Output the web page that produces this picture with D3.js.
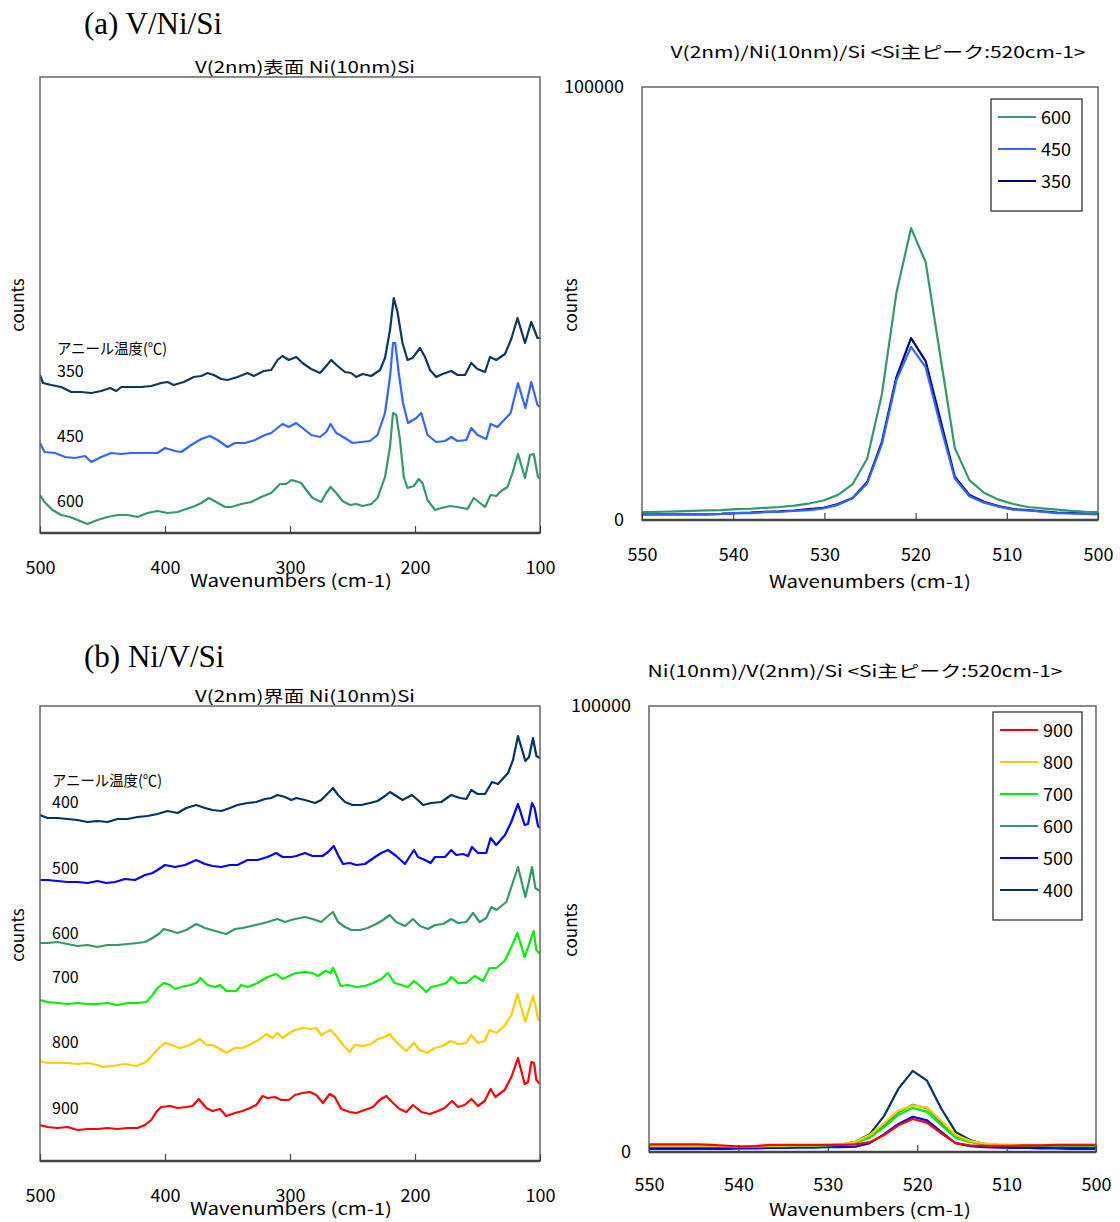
<!DOCTYPE html>
<html>
<head>
<meta charset="utf-8">
<script src="https://cdn.jsdelivr.net/npm/d3@7"></script>
<style>
  body { margin: 0; background: #fff; }
  text { font-family: "Noto Sans CJK JP", "Noto Sans", sans-serif; fill: #000; }
</style>
</head>
<body>
<svg id="chart" width="1120" height="1222"></svg>
<script>
// ---- (a) V/Ni/Si  : wide-range spectra, [wavenumber, counts (arb.)] ----
const a350 = [[500,158],[497.6,150],[491,148],[483,146],[475,141],[467,141],[459,140],[451,142],[444,145],[439,142],[435,146],[427,146],[419,146],[411,147],[403,150],[398,151],[393,148],[385,151],[377,156],[371,157],[366,160],[361,158],[355,154],[350,153],[342,156],[334,160],[329,157],[321,162],[315,163],[310,173],[306,177],[301,173],[295,176],[290,170],[283,164],[276,160],[271,167],[267,173],[262,167],[256,161],[251,160],[247,156],[242,159],[235,157],[228,163],[224,175],[220,203],[217,235],[214,221],[210,190],[206,173],[202,175],[196,185],[192,176],[188,163],[183,156],[178,159],[171,162],[166,158],[160,158],[155,170],[150,164],[144,161],[140,176],[135,173],[128,179],[123,194],[118,215],[112,190],[107,211],[102,195],[100,195]]
const a450 = [[500,90],[496.4,81],[488,80],[480,76],[472,75],[464,77],[459,71],[451,76],[443,80],[435,79],[427,80],[419,80],[411,80],[406,80],[400,85],[392,82],[387,81],[379,88],[371,94],[364,97],[358,93],[350,86],[344,90],[336,90],[328,93],[320,98],[315,100],[310,105],[306,109],[301,106],[295,110],[290,105],[283,98],[276,96],[271,101],[267.5,109],[263,100],[256,95],[250,90],[243,91],[236,92],[230,98],[224,120],[220,156],[217.6,190],[215.8,190],[213,160],[209.6,130],[205.6,110],[201.6,113],[199,115],[195,120],[190,98],[183,91],[176,92],[171,96],[166,92],[159,93],[155,105],[150,98],[143,94],[139.5,109],[134,106],[128,114],[123.5,120],[117.6,150],[111.7,125],[107,151],[102,128],[100,126]]
const a600 = [[500,38],[496.4,31],[490,23],[483,18],[476,16],[470,13],[462,9],[454,13],[446,16],[438,18],[430,18],[422,16],[414,20],[406,22],[398,20],[390,21],[383,24],[376,27],[371,30],[365,35],[359,31],[352,26],[347,26],[339,29],[331,31],[323,36],[315,40],[308,49],[303,49],[299,53],[296,52],[291,50],[287,43],[282,35],[275,31],[271,40],[267.5,46],[263,40],[258,32],[252,28],[247,29],[242,27],[235,29],[230,35],[224,56],[220,86],[217.6,120],[215,118],[212,93],[209,56],[206,45],[201,47],[197,54],[194,50],[190,33],[184,23],[179,25],[172,27],[166,26],[158,24],[153,35],[148,30],[144,26],[139.5,38],[135,37],[131,42],[126,46],[122,60],[117.6,79],[112,55],[108,78],[105,79],[101.6,56],[100,54]]

// ---- (b) Ni/V/Si : wide-range spectra ----
const b400 = [[500,346],[494,343],[486,343],[478,342],[470,341],[462,339],[454,340],[446,339],[438,342],[430,342],[422,344],[414,345],[406,347],[398,350],[390,348],[383,353],[375,356],[368,353],[362,351],[355,350],[348,353],[342,356],[334,358],[327,359],[320,362],[315,363],[310,366],[304,364],[299,361],[295,363],[288,361],[280,358],[275,361],[271,366],[265.6,373],[261.6,366],[256,359],[250,356],[243,356],[236,358],[230,360],[224,365],[220,369],[215,365],[210,361],[202.4,366],[196,359],[193.6,356],[187,358],[179,359],[171,366],[164,363],[159,362],[155,371],[150,367],[144,367],[138.4,379],[133.6,377],[125.6,388],[121.6,401],[117.6,425],[111.7,400],[108.8,404],[105.6,423],[102.9,405],[100,403]]
const b500 = [[500,281],[494,281],[486,280],[478,279],[470,279],[462,278],[454,280],[447,278],[440,279],[432,282],[424,281],[416,286],[410,288],[406,291],[400,296],[392,294],[384,296],[375,301],[368,297],[362,295],[355,294],[348,296],[342,296],[334,301],[326,301],[318,304],[311,308],[306,304],[299,304],[295,305],[288,308],[282,305],[274,305],[269.6,309],[265,315],[261.6,306],[257.6,297],[252,298],[247,296],[240,297],[232,304],[227,308],[221.6,311],[215,305],[208,297],[203.5,306],[200.8,311],[197.6,304],[192,301],[187.5,298],[184,304],[176,304],[171,311],[167,306],[161.6,307],[157.6,305],[154.4,314],[149.6,308],[143,308],[139.5,323],[135,316],[128,326],[123,339],[117.6,357],[112.3,336],[109.6,337],[106.4,358],[104.3,353],[101.6,335],[100,333]]
const b600 = [[500,218],[494,218],[486,219],[478,217],[470,215],[462,216],[454,214],[446,216],[438,216],[430,217],[422,218],[416,219],[410,223],[404,228],[401,232],[395,230],[390,228],[383,231],[375,237],[368,233],[360,230],[351,227],[344,232],[338,233],[331,235],[324,237],[318,239],[310,242],[304,239],[299,241],[296,242],[288,244],[282,242],[275,239],[269.6,245],[265.6,249],[261.6,239],[256,234],[251,231],[244,231],[238,233],[231,237],[225.6,241],[220.3,246],[215,239],[208,235],[201.6,242],[196,235],[189.6,232],[184,236],[177.6,237],[171,242],[165.6,238],[159,239],[153.6,248],[148.3,239],[143,243],[138.9,254],[134.9,251],[126.9,259],[122.4,276],[117.6,294],[111.7,264],[109.1,278],[106.4,294],[103.7,273],[100,270]]
const b700 = [[500,161],[494,159],[486,158],[478,157],[470,158],[462,157],[454,157],[446,158],[438,156],[430,158],[422,158],[415,159],[410,166],[406,173],[401,178],[396,176],[392,172],[387,174],[380,176],[375,178],[371.5,183],[366,176],[360,174],[356,176],[351,170],[343,170],[339,176],[334,174],[326,178],[318,184],[311,187],[306,182],[299,186],[295,188],[288,189],[282,188],[277.6,185],[271.7,190],[267.5,188],[265.6,193],[262.9,186],[259.5,175],[253.6,176],[247,174],[240,175],[233.6,178],[227,182],[221.6,188],[216.3,178],[211,176],[205.6,174],[200.8,180],[195,174],[190.9,169],[187,174],[180,176],[175,178],[170.9,184],[165.6,178],[159,178],[152.3,185],[145.6,180],[140.3,193],[135,193],[128.3,200],[122.9,214],[118.1,228],[112.3,204],[108.3,218],[105.1,230],[102.9,211],[100,207]]
const b800 = [[500,100],[494,98],[486,98],[478,98],[470,97],[462,98],[454,96],[450,94],[442,95],[432,97],[423,95],[415,99],[410,106],[404,114],[400,118],[395,116],[388,113],[382,115],[376,119],[372,122],[367,116],[362,116],[356,112],[351,108],[344,113],[338,113],[331,117],[324,122],[319,127],[314,123],[310,128],[306,123],[299,129],[296,131],[290,133],[283,132],[279,133],[275,126],[271,129],[267.5,131],[263,125],[257.6,116],[252.3,109],[248.3,116],[241.6,115],[235,117],[229.6,122],[224.3,124],[220.3,127],[215,119],[207,110],[200.8,118],[196.3,111],[190.1,108],[184.3,113],[177.6,115],[171.5,120],[165.6,117],[159,118],[155,126],[149.6,118],[144.3,120],[140.3,131],[135,128],[128.3,135],[122.9,146],[118.1,167],[111.7,139],[108.3,154],[105.6,165],[103.7,156],[101.6,142],[100,140]]
const b900 = [[500,36],[494,34],[486,33],[478,34],[470,31],[462,32],[454,32],[446,33],[438,32],[430,33],[422,33],[416,36],[411,41],[407,49],[403,54],[396,55],[390,53],[383,54],[378,55],[373,62],[367,53],[362,50],[356,52],[351,45],[344,48],[338,50],[332,53],[327,56],[322,65],[318,63],[312,64],[307,61],[301,61],[296,66],[290,68],[284,69],[279,66],[273.6,58],[268.3,67],[264.3,64],[258.9,52],[252.3,49],[246.9,48],[240.3,51],[233.6,54],[228.3,61],[222.9,65],[217.6,58],[212.3,52],[206.9,49],[201.6,56],[194.9,49],[188.3,47],[181.6,50],[176.3,53],[170.4,60],[165.6,54],[160.3,56],[154.9,62],[149.6,55],[144.3,60],[139.5,72],[135.7,64],[128.3,71],[122.9,84],[117.6,103],[112.3,77],[109.6,79],[106.9,99],[104.8,98],[102.9,81],[100,77]]

// ---- Si main peak (520 cm-1) ----
const siWave = [550.9,549.3,547.7,546.1,544.5,542.9,541.3,539.7,538.1,536.5,534.9,533.3,531.7,530.1,528.5,526.9,525.3,523.7,522.1,520.5,518.9,517.3,515.7,514.1,512.5,510.9,509.3,507.7,506.1,504.5,502.9,501.3,499.7]
const siA600 = [1800,1800,1900,2000,2100,2200,2300,2500,2600,2800,3000,3300,3800,4500,5800,8300,14200,29000,52500,67400,59600,38000,16600,9200,6300,4700,3700,3000,2700,2400,2100,1900,1800]
const siA450 = [1300,1300,1300,1300,1300,1300,1400,1600,1600,1800,1900,2100,2300,2700,3500,5000,8500,17500,32300,40000,35300,22000,9600,5500,4000,3100,2400,2200,1900,1600,1500,1400,1300]
const siA350 = [1300,1300,1300,1300,1300,1300,1400,1600,1700,1900,2000,2200,2500,2800,3700,5100,8800,18000,33000,42000,36700,23300,10000,5800,4200,3200,2500,2300,2000,1700,1600,1500,1400]
const siB900 = [1700,1700,1700,1700,1700,1600,1400,1200,1300,1600,1600,1600,1600,1600,1600,1700,2200,3800,6000,7400,6600,4200,2000,1500,1400,1400,1400,1500,1500,1600,1600,1600,1600]
const siB800 = [1400,1400,1400,1400,1400,1400,1300,1300,1300,1400,1400,1500,1500,1600,1700,2300,3800,6500,9300,10400,10000,7000,3800,2500,1900,1700,1600,1600,1600,1600,1600,1600,1600]
const siB700 = [1300,1300,1300,1300,1300,1300,1300,1200,1200,1300,1300,1400,1400,1500,1600,2100,3200,5600,8300,9900,9000,6000,3200,2200,1800,1600,1500,1500,1500,1500,1500,1400,1400]
const siB600 = [1300,1300,1300,1300,1300,1300,1300,1200,1200,1300,1300,1400,1400,1500,1700,2200,3400,6000,8900,10600,9800,6500,3500,2300,1800,1600,1500,1400,1400,1400,1400,1400,1400]
const siB500 = [700,700,700,700,700,700,700,800,800,900,900,1000,1000,1100,1100,1200,2000,4000,6300,7900,7100,4500,2000,1300,1100,1000,900,900,800,800,700,700,700]
const siB400 = [1000,1000,1000,1000,1000,1000,1000,1100,1100,1200,1200,1300,1300,1400,1600,2300,4000,8100,14200,18200,16000,9700,4500,2700,1800,1500,1300,1200,1100,1000,1000,1000,1000]

const wideTicks = [500, 400, 300, 200, 100]
const siTicks = [550, 540, 530, 520, 510, 500]

const svg = d3.select("#chart")
let clipId = 0

function frame(g, x, y) {
  const [x0, x1] = x.range(), [y0, y1] = y.range()
  g.append("rect").attr("x", x0).attr("y", y1).attr("width", x1 - x0).attr("height", y0 - y1)
    .attr("fill", "none").attr("stroke", "#666").attr("stroke-width", 1.5)
  g.append("line").attr("x1", x0).attr("x2", x1).attr("y1", y0).attr("y2", y0)
    .attr("stroke", "#444").attr("stroke-width", 2.5)
}

function xAxis(g, x, y, ticks, pad) {
  const ax = g.append("g").attr("transform", `translate(0,${y.range()[0]})`)
    .call(d3.axisBottom(x).tickValues(ticks).tickSizeInner(-7).tickSizeOuter(0).tickPadding(pad))
  ax.select(".domain").remove()
  ax.selectAll(".tick line").attr("stroke", "#444").attr("stroke-width", 1.2)
  ax.selectAll("text").attr("font-size", 18).style("font-family", "'Noto Sans CJK JP'")
}

function plotLines(g, x, y, series) {
  const id = "clip" + (clipId++)
  const [x0, x1] = x.range(), [y0, y1] = y.range()
  g.append("clipPath").attr("id", id).append("rect")
    .attr("x", x0).attr("y", y1).attr("width", x1 - x0).attr("height", y0 - y1)
  const line = d3.line().x(d => x(d[0])).y(d => y(d[1]))
  g.append("g").attr("clip-path", `url(#${id})`).selectAll("path").data(series).join("path")
    .attr("d", s => line(s.data)).attr("fill", "none")
    .attr("stroke", s => s.color).attr("stroke-width", 2.2).attr("stroke-linejoin", "round")
}

function label(g, txt, x, y, size, opts = {}) {
  const t = g.append("text").attr("x", x).attr("y", y).attr("font-size", size).text(txt)
  if (opts.anchor) t.attr("text-anchor", opts.anchor)
  if (opts.len) t.attr("textLength", opts.len).attr("lengthAdjust", "spacingAndGlyphs")
  if (opts.rotate) t.attr("transform", `rotate(-90,${x},${y})`)
  return t
}

// wide spectrum panel (left)
function widePanel(cfg) {
  const g = svg.append("g")
  const x = d3.scaleLinear().domain([500, 100]).range([40, 540])
  const y = d3.scaleLinear().domain([0, cfg.bottom - cfg.top]).range([cfg.bottom, cfg.top])
  plotLines(g, x, y, cfg.series)
  frame(g, x, y)
  xAxis(g, x, y, wideTicks, 28)
  label(g, cfg.title, 305, cfg.top - 4, 16, {anchor: "middle", len: 220})
  label(g, "Wavenumbers (cm-1)", 291, cfg.bottom + 54, 17, {anchor: "middle", len: 202})
  label(g, "counts", 24, cfg.countsY, 17, {anchor: "middle", rotate: true})
  label(g, "アニール温度(℃)", cfg.annX, cfg.annY, 15, {len: 110})
  cfg.series.forEach(s => label(g, s.name, cfg.annX, s.labelY, 16))
}

// Si peak panel (right)
function siPanel(cfg) {
  const g = svg.append("g")
  const x = d3.scaleLinear().domain([550, 500]).range([cfg.left, cfg.right])
  const y = d3.scaleLinear().domain([0, 100000]).range([cfg.bottom, cfg.top])
  const series = cfg.series.map(s => ({...s, data: siWave.map((w, i) => [w, s.values[i]])}))
  plotLines(g, x, y, series.slice().reverse())
  frame(g, x, y)
  xAxis(g, x, y, siTicks, cfg.tickPad)
  const ya = g.append("g").attr("transform", `translate(${cfg.left},0)`)
    .call(d3.axisLeft(y).tickValues([0, 100000]).tickSize(0).tickPadding(18).tickFormat(d3.format("d")))
  ya.select(".domain").remove()
  ya.selectAll("text").attr("font-size", 18).style("font-family", "'Noto Sans CJK JP'")
  label(g, cfg.title, cfg.titleX, cfg.top - 29, 16, {anchor: "middle", len: 415})
  label(g, "Wavenumbers (cm-1)", 870, cfg.xTitleY, 17, {anchor: "middle", len: 202})
  label(g, "counts", 577, cfg.countsY, 17, {anchor: "middle", rotate: true})

  // legend
  const lg = g.append("g")
  lg.append("rect").attr("x", cfg.leg.x).attr("y", cfg.leg.y).attr("width", cfg.leg.w)
    .attr("height", 16 + 32 * series.length)
    .attr("fill", "#fff").attr("stroke", "#222").attr("stroke-width", 1.2)
  series.forEach((s, i) => {
    const cy = cfg.leg.y + 18 + 32 * i
    lg.append("line").attr("x1", cfg.leg.x + 7).attr("x2", cfg.leg.x + 45)
      .attr("y1", cy).attr("y2", cy).attr("stroke", s.color).attr("stroke-width", 2.2)
    label(lg, s.name, cfg.leg.x + 50, cy + 7, 18)
  })
}

// panel headings
svg.append("text").attr("x", 84).attr("y", 34).attr("font-size", 31)
  .style("font-family", "'Liberation Serif', serif").text("(a) V/Ni/Si")
svg.append("text").attr("x", 84).attr("y", 667).attr("font-size", 31)
  .style("font-family", "'Liberation Serif', serif").text("(b) Ni/V/Si")

widePanel({
  title: "V(2nm)表面  Ni(10nm)Si", top: 77, bottom: 533, countsY: 305, annX: 57, annY: 354,
  series: [
    {name: "350", color: "#0f3660", data: a350, labelY: 377},
    {name: "450", color: "#3366ff", data: a450, labelY: 442},
    {name: "600", color: "#339966", data: a600, labelY: 507}
  ]
})

widePanel({
  title: "V(2nm)界面  Ni(10nm)Si", top: 706, bottom: 1161, countsY: 935, annX: 52, annY: 786,
  series: [
    {name: "400", color: "#003366", data: b400, labelY: 808},
    {name: "500", color: "#0000ff", data: b500, labelY: 874},
    {name: "600", color: "#339966", data: b600, labelY: 939},
    {name: "700", color: "#00ee00", data: b700, labelY: 983},
    {name: "800", color: "#ffcc00", data: b800, labelY: 1048},
    {name: "900", color: "#ff0000", data: b900, labelY: 1114}
  ]
})

siPanel({
  title: "V(2nm)/Ni(10nm)/Si  <Si主ピーク:520cm-1>", titleX: 878,
  left: 642, right: 1098, top: 87, bottom: 520, countsY: 305, xTitleY: 588, tickPad: 28,
  leg: {x: 991, y: 99, w: 91},
  series: [
    {name: "600", color: "#339966", values: siA600},
    {name: "450", color: "#3366ff", values: siA450},
    {name: "350", color: "#000080", values: siA350}
  ]
})

siPanel({
  title: "Ni(10nm)/V(2nm)/Si  <Si主ピーク:520cm-1>", titleX: 855,
  left: 649, right: 1096, top: 706, bottom: 1152, countsY: 930, xTitleY: 1216, tickPad: 26,
  leg: {x: 993, y: 712, w: 89},
  series: [
    {name: "900", color: "#ff0000", values: siB900},
    {name: "800", color: "#ffcc00", values: siB800},
    {name: "700", color: "#00ee00", values: siB700},
    {name: "600", color: "#339966", values: siB600},
    {name: "500", color: "#0000ff", values: siB500},
    {name: "400", color: "#003366", values: siB400}
  ]
})
</script>
</body>
</html>
